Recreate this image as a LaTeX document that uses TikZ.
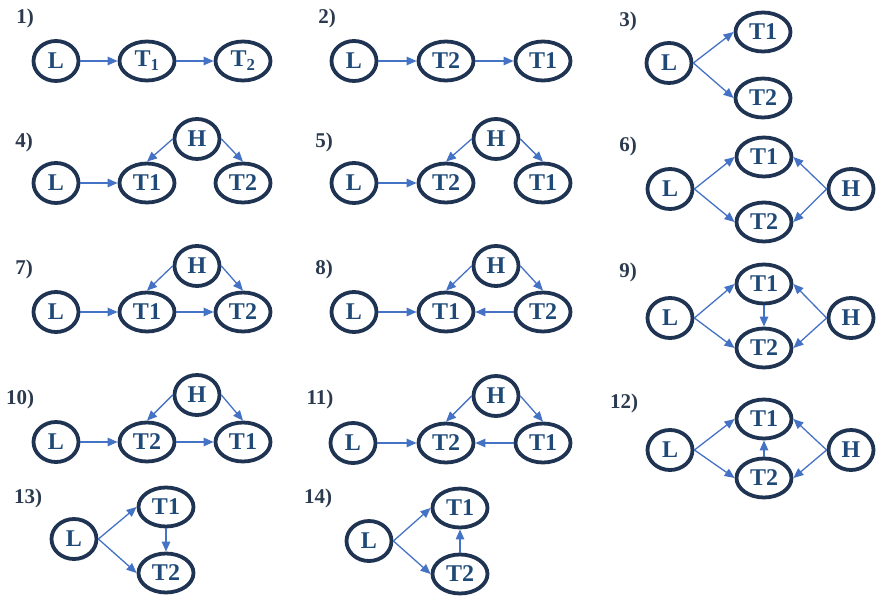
\documentclass[tikz,border=0pt]{standalone}
\usepackage{fontspec}
\setmainfont{Liberation Serif}[BoldFont={Liberation Serif Bold}]
\usetikzlibrary{shapes.geometric,arrows.meta}
\definecolor{navy}{HTML}{1F3352}
\definecolor{tblue}{HTML}{1F4A78}
\definecolor{ablue}{HTML}{4472C4}
\definecolor{labc}{HTML}{2B3A4E}
\tikzset{
  nd/.style={ellipse, draw=navy, line width=3.8pt, text=tblue, inner sep=0pt,
    font=\bfseries\fontsize{24}{24}\selectfont},
  lnd/.style={nd, minimum width=45pt, minimum height=40pt},
  tnd/.style={nd, minimum width=55pt, minimum height=39pt},
  arr/.style={draw=ablue, line width=1.3pt, -{Triangle[length=10pt,width=8.5pt]}},
  plab/.style={text=labc, font=\bfseries\fontsize{21}{21}\selectfont, inner sep=0pt}
}
\begin{document}
\begin{tikzpicture}[x=1pt,y=-1pt]
\useasboundingbox (0,0) rectangle (876,596);
% Panel 1
\node[plab] (lab1) at (25,18) {1)};
\node[lnd] (p1L) at (56,61) {L};
\node[tnd] (p1T1) at (147,61) {T\textsubscript{1}};
\node[tnd] (p1T2) at (243,61) {T\textsubscript{2}};
\draw[arr] (p1L) -- (p1T1);
\draw[arr] (p1T1) -- (p1T2);
% Panel 2
\node[plab] (lab2) at (327,18) {2)};
\node[lnd] (p2L) at (354,61) {L};
\node[tnd] (p2T2) at (446,61) {T2};
\node[tnd] (p2T1) at (543,61) {T1};
\draw[arr] (p2L) -- (p2T2);
\draw[arr] (p2T2) -- (p2T1);
% Panel 3
\node[plab] (lab3) at (628,21) {3)};
\node[lnd] (p3L) at (669,63) {L};
\node[tnd] (p3T1) at (763,32) {T1};
\node[tnd] (p3T2) at (763,98) {T2};
\draw[arr] (p3L.east) -- (p3T1.west);
\draw[arr] (p3L.east) -- (p3T2.west);
% Panel 4
\node[plab] (lab4) at (24,142) {4)};
\node[lnd] (p4L) at (56,183) {L};
\node[tnd] (p4T1) at (147,183) {T1};
\node[lnd] (p4H) at (197,139) {H};
\node[tnd] (p4T2) at (243,183) {T2};
\draw[arr] (p4L) -- (p4T1);
\draw[arr] (p4H.west) -- (p4T1.north);
\draw[arr] (p4H.east) -- (p4T2.north);
% Panel 5
\node[plab] (lab5) at (324,142) {5)};
\node[lnd] (p5L) at (354,183) {L};
\node[tnd] (p5T2) at (446,183) {T2};
\node[lnd] (p5H) at (496,139) {H};
\node[tnd] (p5T1) at (543,183) {T1};
\draw[arr] (p5L) -- (p5T2);
\draw[arr] (p5H.west) -- (p5T2.north);
\draw[arr] (p5H.east) -- (p5T1.north);
% Panel 6
\node[plab] (lab6) at (628,146) {6)};
\node[lnd] (p6L) at (670,189) {L};
\node[tnd] (p6T1) at (764,157) {T1};
\node[tnd] (p6T2) at (764,222) {T2};
\node[lnd] (p6H) at (851,189) {H};
\draw[arr] (p6L.east) -- (p6T1.west);
\draw[arr] (p6L.east) -- (p6T2.west);
\draw[arr] (p6H.west) -- (p6T1.east);
\draw[arr] (p6H.west) -- (p6T2.east);
% Panel 7
\node[plab] (lab7) at (24,269) {7)};
\node[lnd] (p7L) at (56,312) {L};
\node[tnd] (p7T1) at (147,312) {T1};
\node[lnd] (p7H) at (197,266) {H};
\node[tnd] (p7T2) at (243,312) {T2};
\draw[arr] (p7L) -- (p7T1);
\draw[arr] (p7T1) -- (p7T2);
\draw[arr] (p7H.west) -- (p7T1.north);
\draw[arr] (p7H.east) -- (p7T2.north);
% Panel 8
\node[plab] (lab8) at (324,269) {8)};
\node[lnd] (p8L) at (354,312) {L};
\node[tnd] (p8T1) at (446,312) {T1};
\node[lnd] (p8H) at (496,266) {H};
\node[tnd] (p8T2) at (543,312) {T2};
\draw[arr] (p8L) -- (p8T1);
\draw[arr] (p8T2) -- (p8T1);
\draw[arr] (p8H.west) -- (p8T1.north);
\draw[arr] (p8H.east) -- (p8T2.north);
% Panel 9
\node[plab] (lab9) at (628,272) {9)};
\node[lnd] (p9L) at (670,318) {L};
\node[tnd] (p9T1) at (764,284) {T1};
\node[tnd] (p9T2) at (764,348) {T2};
\node[lnd] (p9H) at (851,318) {H};
\draw[arr] (p9L.east) -- (p9T1.west);
\draw[arr] (p9L.east) -- (p9T2.west);
\draw[arr] (p9H.west) -- (p9T1.east);
\draw[arr] (p9H.west) -- (p9T2.east);
\draw[arr] (p9T1) -- (p9T2);
% Panel 10
\node[plab] (lab10) at (20,399) {10)};
\node[lnd] (p10L) at (56,442) {L};
\node[tnd] (p10T2) at (147,442) {T2};
\node[lnd] (p10H) at (197,395) {H};
\node[tnd] (p10T1) at (243,442) {T1};
\draw[arr] (p10L) -- (p10T2);
\draw[arr] (p10T2) -- (p10T1);
\draw[arr] (p10H.west) -- (p10T2.north);
\draw[arr] (p10H.east) -- (p10T1.north);
% Panel 11
\node[plab] (lab11) at (320,399) {11)};
\node[lnd] (p11L) at (353,443) {L};
\node[tnd] (p11T2) at (446,443) {T2};
\node[lnd] (p11H) at (496,396) {H};
\node[tnd] (p11T1) at (543,443) {T1};
\draw[arr] (p11L) -- (p11T2);
\draw[arr] (p11T1) -- (p11T2);
\draw[arr] (p11H.west) -- (p11T2.north);
\draw[arr] (p11H.east) -- (p11T1.north);
% Panel 12
\node[plab] (lab12) at (624,403) {12)};
\node[lnd] (p12L) at (670,450) {L};
\node[tnd] (p12T1) at (764,419) {T1};
\node[tnd] (p12T2) at (764,478) {T2};
\node[lnd] (p12H) at (851,450) {H};
\draw[arr] (p12L.east) -- (p12T1.west);
\draw[arr] (p12L.east) -- (p12T2.west);
\draw[arr] (p12H.west) -- (p12T1.east);
\draw[arr] (p12H.west) -- (p12T2.east);
\draw[arr] (p12T2) -- (p12T1);
% Panel 13
\node[plab] (lab13) at (28,498) {13)};
\node[lnd] (p13L) at (74,539) {L};
\node[tnd] (p13T1) at (166,507) {T1};
\node[tnd] (p13T2) at (166,573) {T2};
\draw[arr] (p13L.east) -- (p13T1.west);
\draw[arr] (p13L.east) -- (p13T2.west);
\draw[arr] (p13T1) -- (p13T2);
% Panel 14
\node[plab] (lab14) at (318,498) {14)};
\node[lnd] (p14L) at (369,541) {L};
\node[tnd] (p14T1) at (460,508) {T1};
\node[tnd] (p14T2) at (460,574) {T2};
\draw[arr] (p14L.east) -- (p14T1.west);
\draw[arr] (p14L.east) -- (p14T2.west);
\draw[arr] (p14T2) -- (p14T1);
\end{tikzpicture}
\end{document}
